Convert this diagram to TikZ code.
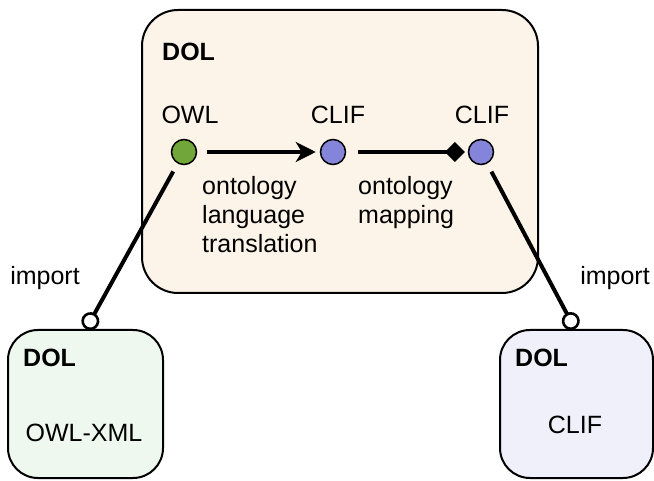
\documentclass[tikz,border=0pt]{standalone}
\usepackage{fontspec}
\setmainfont{Liberation Sans}
\usetikzlibrary{arrows.meta}
\definecolor{mainfill}{HTML}{FCF4E9}
\definecolor{leftfill}{HTML}{EEF8EE}
\definecolor{rightfill}{HTML}{F0F0FA}
\definecolor{owlgreen}{HTML}{70A63A}
\definecolor{clifblue}{HTML}{8484DA}
\tikzset{
  x=1pt, y=-1pt,
  box/.style={draw=black, line width=2pt, rounded corners=36pt},
  lang/.style={circle, draw=black, line width=1.5pt, minimum size=25pt, inner sep=0pt},
  txt/.style={font=\fontsize{25}{29}\selectfont, inner sep=0pt},
  ttl/.style={font=\fontsize{25}{29}\selectfont\bfseries, inner sep=0pt, anchor=west},
  multi/.style={txt, align=left, anchor=north west},
  conn/.style={line width=4pt},
  imp/.style={conn, -{Circle[open, length=18pt, width=18pt, fill=white, line width=2.6pt]}}
}
\begin{document}
\begin{tikzpicture}
\useasboundingbox (0,0) rectangle (654,481);
% boxes
\draw[box, fill=mainfill] (142,10) rectangle (538,293);
\draw[box, rounded corners=30pt, fill=leftfill] (8,330) rectangle (163,478);
\draw[box, rounded corners=30pt, fill=rightfill] (500,330) rectangle (653,478);
% titles
\node[ttl] (t0) at (162,52) {DOL};
\node[ttl] (t1) at (23,358) {DOL};
\node[ttl] (t2) at (515,358) {DOL};
\node[txt] (ox) at (84,433) {OWL-XML};
\node[txt] (cx) at (575,425) {CLIF};
% language nodes
\node[lang, fill=owlgreen] (owl) at (184,152) {};
\node[lang, fill=clifblue] (c1) at (333,152) {};
\node[lang, fill=clifblue] (c2) at (481,152) {};
\node[txt] (lowl) at (190,115) {OWL};
\node[txt] (lc1) at (338,115) {CLIF};
\node[txt] (lc2) at (482,115) {CLIF};
% connectors
\draw[conn, -{Stealth[length=20pt, width=20pt, inset=6pt]}, shorten <=10pt, shorten >=4pt] (owl) -- (c1);
\draw[conn, -{Diamond[length=20pt, width=20pt]}, shorten <=12pt, shorten >=3pt] (c1) -- (c2);
\coordinate (il) at (86,329);
\coordinate (ir) at (575,329);
\draw[imp, shorten <=9pt] (owl) -- (il);
\draw[imp, shorten <=9pt] (c2) -- (ir);
% labels
\node[multi] (lt) at (202,176) {ontology\\language\\translation};
\node[multi] (lm) at (358,176) {ontology\\mapping};
\node[txt] (li) at (45,278) {import};
\node[txt] (ri) at (615,278) {import};
\end{tikzpicture}
\end{document}
